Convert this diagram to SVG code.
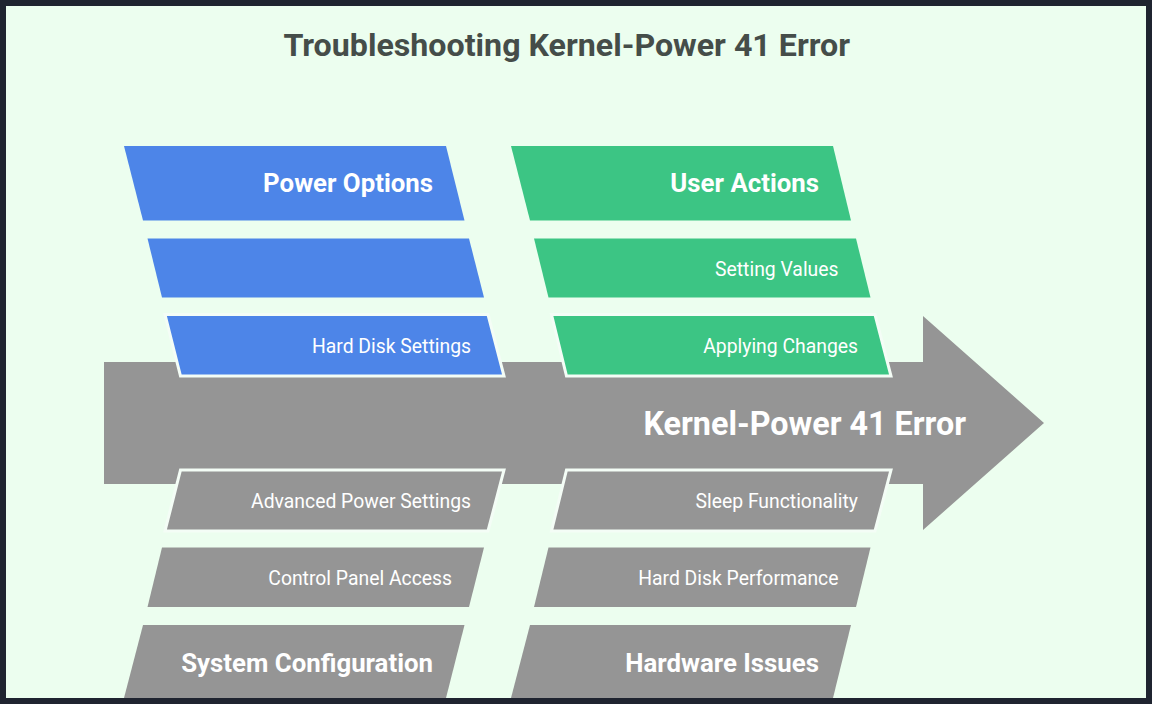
<svg xmlns="http://www.w3.org/2000/svg" width="1152" height="704" viewBox="0 0 1152 704">
<style>
text{font-family:Roboto,"Liberation Sans",sans-serif;fill:#fff;text-anchor:end}
.h{font-weight:700;font-size:25.800px}
.s{font-size:19.350px}
.blue{fill:#4d85e8}
.green{fill:#3cc584}
.grey{fill:#959595}
.edge{stroke:#f4fdf6;stroke-width:3;stroke-linejoin:miter}
</style>
<rect width="1152" height="704" fill="#1f2430"/>
<rect x="6" y="6" width="1140" height="692" fill="#ecfeef"/>
<text id="title" x="850" y="55.500" style="fill:#454d49;font-weight:700;font-size:32.200px">Troubleshooting Kernel-Power 41 Error</text>
<g id="connectors">
<polygon id="spine" class="grey" points="104,362 923,362 923,316 1044,423 923,530 923,484 104,484"/>
</g>
<g id="power-options"><polygon class="blue" points="124,146 446,146 464.500,220.500 143,220.500"/><text class="h" x="433" y="192">Power Options</text></g>
<g id="power-blank"><polygon class="blue" points="147.500,238.500 469,238.500 484,297.500 162,297.500"/></g>
<g id="hard-disk-settings"><polygon class="blue edge" points="165,314.500 488,314.500 504,376 180.500,376"/><text class="s" x="471" y="352.700">Hard Disk Settings</text></g>
<g id="user-actions"><polygon class="green" points="511,146 833,146 851,220.500 530,220.500"/><text class="h" x="819" y="192">User Actions</text></g>
<g id="setting-values"><polygon class="green" points="534,238.500 856,238.500 870.500,297.500 548.500,297.500"/><text class="s" x="838.500" y="275.700">Setting Values</text></g>
<g id="applying-changes"><polygon class="green edge" points="551.500,314.500 875,314.500 891,376 566.500,376"/><text class="s" x="858" y="352.700">Applying Changes</text></g>
<g id="kernel-power"><text x="966" y="434.800" style="font-weight:700;font-size:32.300px">Kernel-Power 41 Error</text></g>
<g id="advanced-power-settings"><polygon class="grey edge" points="180.500,470 504,470 488,531 165,531"/><text class="s" x="471" y="507.700">Advanced Power Settings</text></g>
<g id="control-panel-access"><polygon class="grey" points="162,547.500 484,547.500 469,607 147.500,607"/><text class="s" x="452" y="584.700">Control Panel Access</text></g>
<g id="system-configuration"><polygon class="grey" points="143,625 464.500,625 446,698 124,698"/><text class="h" x="433" y="672">System Configuration</text></g>
<g id="sleep-functionality"><polygon class="grey edge" points="566.500,470 891,470 875,531 551.500,531"/><text class="s" x="858" y="507.700">Sleep Functionality</text></g>
<g id="hard-disk-performance"><polygon class="grey" points="548.500,547.500 870.500,547.500 856,607 534,607"/><text class="s" x="838.500" y="584.700">Hard Disk Performance</text></g>
<g id="hardware-issues"><polygon class="grey" points="530,625 851,625 833,698 511,698"/><text class="h" x="819" y="672">Hardware Issues</text></g>
</svg>
